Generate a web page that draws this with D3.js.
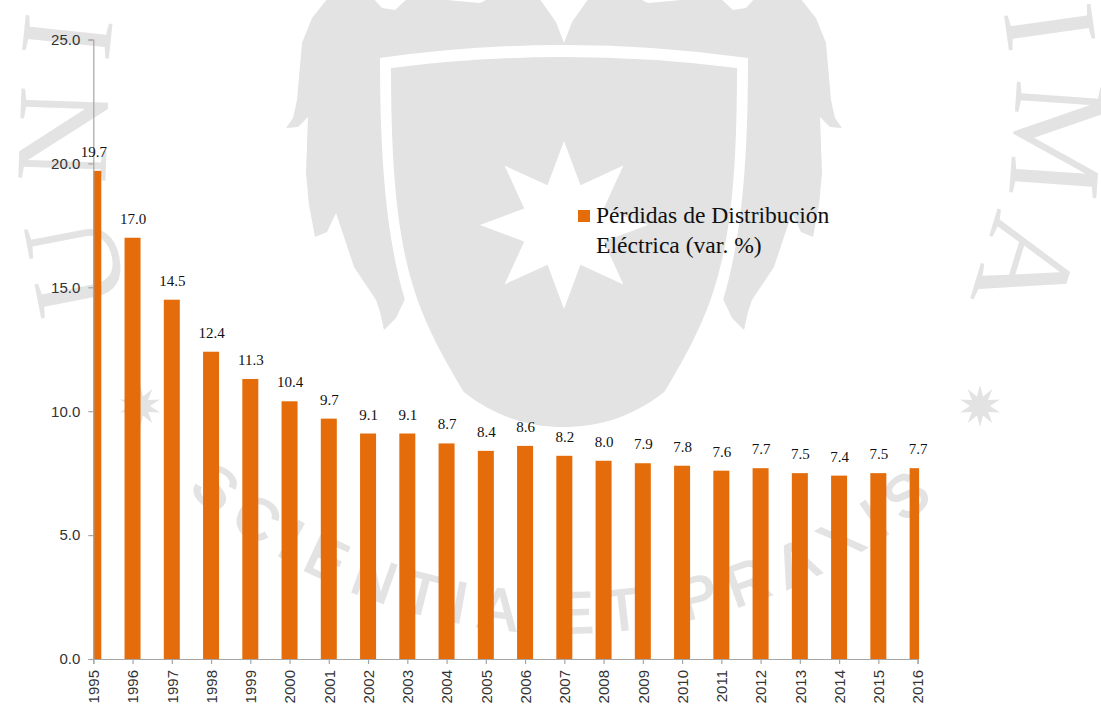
<!DOCTYPE html>
<html>
<head>
<meta charset="utf-8">
<script src="https://cdn.jsdelivr.net/npm/d3@7"></script>
<style>
html,body{margin:0;padding:0;background:#fff;overflow:hidden}
svg{display:block}
</style>
</head>
<body>
<svg id="chart" width="1101" height="707"></svg>
<script>
const years = [1995,1996,1997,1998,1999,2000,2001,2002,2003,2004,2005,2006,2007,2008,2009,2010,2011,2012,2013,2014,2015,2016];
const losses = [19.7,17.0,14.5,12.4,11.3,10.4,9.7,9.1,9.1,8.7,8.4,8.6,8.2,8.0,7.9,7.8,7.6,7.7,7.5,7.4,7.5,7.7];
const yTicks = [0,5,10,15,20,25];
const legendLines = ["Pérdidas de Distribución","Eléctrica (var. %)"];
const mottoText = "SCIENTIA ET PRAXIS";

const BAR = "#e46c0a", WM = "#e3e3e3", AXIS = "#a6a6a6";
const SERIF = "'Liberation Serif','Times New Roman',serif";
const SANS = "'Liberation Sans',Arial,sans-serif";

const svg = d3.select("#chart");
const x = d3.scalePoint().domain(years).range([93.3, 917.6]);
const y = d3.scaleLinear().domain([0, 25]).range([659, 39.5]);

/* ---------- watermark ---------- */
const wm = svg.append("g").attr("class","watermark");
const axisX = 564;
const crestLeft = [[328,-2],[312,18],[302,43],[297,100],[293,118],[286,128],[298,127],[308,117],[306,173],[309,205],[315,237],[327,232],[336,213],[354,267],[376,300],[380,312],[384,330],[396,318],[406,297],[470,200],[564,130]];
const crestTopLeft = [[564,130],[564,43],[556,22],[539,-2],[490,-2],[480,3],[425,-2],[408,-2],[395,10],[382,8],[373,-2],[328,-2]];
const smooth = d3.line().curve(d3.curveLinear);
const mirror = pts => pts.map(p => [2*axisX - p[0], p[1]]);
wm.append("path").attr("d", smooth(crestLeft.concat(crestTopLeft))+"Z").attr("fill",WM);
wm.append("path").attr("d", smooth(mirror(crestLeft.concat(crestTopLeft)))+"Z").attr("fill",WM);

const shieldPath = (half, top, edge, bottom) => {
  const c = d3.path();
  const L = axisX - half, R = axisX + half;
  c.moveTo(L, edge);
  c.quadraticCurveTo(axisX - half*0.5, top, axisX, top);
  c.quadraticCurveTo(axisX + half*0.5, top, R, edge);
  c.bezierCurveTo(R, edge + 190, R - 22, bottom - 120, R - half*0.42, bottom - 35);
  c.bezierCurveTo(R - half*0.62, bottom - 8, R - half*0.82, bottom, axisX, bottom);
  c.bezierCurveTo(L + half*0.82, bottom, L + half*0.62, bottom - 8, L + half*0.42, bottom - 35);
  c.bezierCurveTo(L + 22, bottom - 120, L, edge + 190, L, edge);
  c.closePath();
  return c.toString();
};
wm.append("path").attr("d", shieldPath(184, 45, 58, 445)).attr("fill","#fff");
wm.append("path").attr("d", shieldPath(173, 57, 68, 427)).attr("fill",WM);

const starPath = (cx, cy, n, ro, ri) => {
  const pts = d3.range(n*2).map(i => {
    const a = i*Math.PI/n, r = i%2 ? ri : ro;
    return [cx + r*Math.sin(a), cy - r*Math.cos(a)];
  });
  return d3.line()(pts)+"Z";
};
wm.append("path").attr("d", starPath(axisX,225,8,84,43)).attr("fill","#fff");
wm.append("path").attr("d", starPath(140,406,10,21,10)).attr("fill",WM);
wm.append("path").attr("d", starPath(980,406,10,21,10)).attr("fill",WM);

const sideLetters = [
  {t:"I",cx:67,cy:37,r:-84},{t:"N",cx:63,cy:135,r:-88},{t:"U",cx:75,cy:266,r:-101},
  {t:"I",cx:1050,cy:27,r:82},{t:"M",cx:1057,cy:140,r:94},{t:"A",cx:1026,cy:266,r:107}
];
wm.selectAll("text.side").data(sideLetters).join("text")
  .attr("class","side")
  .attr("transform",d=>`translate(${d.cx},${d.cy}) rotate(${d.r})`)
  .attr("text-anchor","middle").attr("dy","0.33em")
  .attr("font-family",SERIF).attr("font-size",133).attr("fill",WM)
  .text(d=>d.t);

svg.append("defs").append("path").attr("id","mottoArc")
  .attr("d","M 170 474 A 573 573 0 0 0 962 474");
wm.append("text")
  .attr("font-family",SANS).attr("font-size",58).attr("fill",WM)
  .attr("stroke",WM).attr("stroke-width",2)
  .append("textPath").attr("href","#mottoArc")
  .attr("startOffset","50%").attr("text-anchor","middle")
  .attr("letter-spacing",13.5)
  .text(mottoText);

/* ---------- bars ---------- */
svg.select("defs").append("clipPath").attr("id","plotClip").append("rect")
  .attr("x", x(1995)).attr("y", y(25))
  .attr("width", x(2016) - x(1995) + 1.5).attr("height", y(0) - y(25));

const barW = 16;
svg.append("g").attr("clip-path","url(#plotClip)")
  .selectAll("rect").data(years).join("rect")
  .attr("x", d => x(d) - barW/2)
  .attr("width", barW)
  .attr("y", (d,i) => y(losses[i]))
  .attr("height", (d,i) => y(0) - y(losses[i]))
  .attr("fill", BAR);

/* ---------- axes ---------- */
const yAxis = d3.axisLeft(y).tickValues(yTicks).tickFormat(d3.format(".1f")).tickSize(5).tickPadding(8);
const gy = svg.append("g").attr("transform",`translate(${x(1995)},0)`).call(yAxis);
const xAxis = d3.axisBottom(x).tickSize(5).tickFormat(d3.format("d"));
const gx = svg.append("g").attr("transform",`translate(0,${y(0)})`).call(xAxis);
[gx,gy].forEach(g=>{
  g.selectAll(".domain").attr("stroke",AXIS).attr("stroke-width",1.2);
  g.selectAll(".tick line").attr("stroke",AXIS).attr("stroke-width",1.2);
  g.selectAll("text").attr("font-family",SANS).attr("font-size",15).attr("fill","#333");
});
gx.selectAll("text")
  .attr("text-anchor","end").attr("transform","rotate(-90)")
  .attr("x",-11).attr("y",0).attr("dy","0.35em");

/* ---------- value labels ---------- */
svg.append("g").selectAll("text").data(years).join("text")
  .attr("x", d => x(d) + 0.5)
  .attr("y", (d,i) => y(losses[i]) - 14)
  .attr("text-anchor","middle")
  .attr("font-family",SERIF).attr("font-size",15).attr("fill","#111")
  .text((d,i) => losses[i].toFixed(1));

/* ---------- legend ---------- */
const lg = svg.append("g");
lg.append("rect").attr("x",578).attr("y",210).attr("width",12).attr("height",12).attr("fill",BAR);
lg.selectAll("text").data(legendLines).join("text")
  .attr("x",596).attr("y",(d,i)=>223+i*30)
  .attr("font-family",SERIF).attr("font-size",23.6).attr("fill","#111")
  .text(d=>d);
</script>
</body>
</html>
